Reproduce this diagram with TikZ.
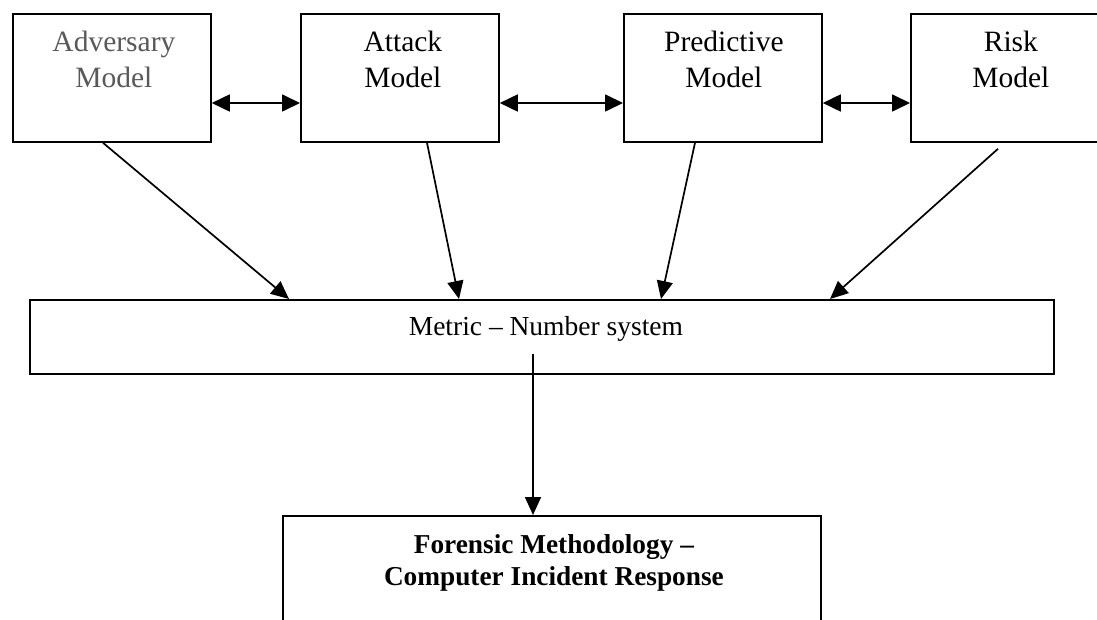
\documentclass[tikz,border=0pt]{standalone}
\usepackage{fontspec}
\setmainfont{Liberation Serif}
\usetikzlibrary{arrows.meta,calc}
\begin{document}
\begin{tikzpicture}[x=1pt,y=-1pt,
  box/.style={draw, line width=1.8pt, anchor=north west, inner sep=0pt},
  modelbox/.style={box, minimum width=198pt, minimum height=128pt},
  modeltext/.style={anchor=north, inner sep=0pt, align=center,
    font=\fontsize{29.5}{36}\selectfont},
  conn/.style={line width=1.7pt, -{Triangle[length=18pt,width=16pt]}},
  dbl/.style={line width=1.7pt, {Triangle[length=18pt,width=17pt]}-{Triangle[length=18pt,width=17pt]}}]
\useasboundingbox (0,0) rectangle (1097,620);

% model boxes along the top
\node[modelbox] (adv)  at (12,13)  {};
\node[modelbox] (att)  at (300,13) {};
\node[modelbox] (pred) at (623,13) {};
\node[modelbox] (risk) at (910,13) {};
\node[modeltext, text=black!65] (advtxt) at ($(adv.north)+(2,18)$)  {Adversary\\Model};
\node[modeltext] (atttxt)  at ($(att.north)+(3,18)$)  {Attack\\Model};
\node[modeltext] (predtxt) at ($(pred.north)+(1,18)$) {Predictive\\Model};
\node[modeltext] (risktxt) at ($(risk.north)+(1,18)$) {Risk\\Model};

% metric bar
\node[box, minimum width=1024pt, minimum height=74pt] (met) at (29,299) {};
\node[inner sep=0pt, font=\fontsize{27.5}{33}\selectfont] (mettxt)
  at ($(met.center)+(4,-8)$) {Metric -- Number system};

% forensic box (runs past the lower edge)
\node[box, minimum width=538pt, minimum height=130pt] (fore) at (282,515) {};
\node[modeltext, font=\bfseries\fontsize{27.3}{32}\selectfont] (foretxt)
  at ($(fore.north)+(2,19)$) {Forensic Methodology --\\Computer Incident Response};

% links between neighbouring models
\draw[dbl] ($(adv.north east)+(0,90)$)  -- ($(att.north west)+(0,90)$);
\draw[dbl] ($(att.north east)+(0,90)$)  -- ($(pred.north west)+(0,90)$);
\draw[dbl] ($(pred.north east)+(0,90)$) -- ($(risk.north west)+(0,90)$);

% models feed the metric
\draw[conn] ($(adv.south west)+(91,0)$)  -- ($(met.north west)+(260,0)$);
\draw[conn] ($(att.south west)+(127,0)$) -- ($(met.north west)+(430,0)$);
\draw[conn] ($(pred.south west)+(72,0)$) -- ($(met.north west)+(632,0)$);
\draw[conn] ($(risk.south west)+(88,6)$) -- ($(met.north west)+(801,0)$);

% metric feeds the forensic methodology
\draw[conn] ($(met.south west)+(504,-21)$) -- ($(fore.north west)+(251,0)$);
\end{tikzpicture}
\end{document}
